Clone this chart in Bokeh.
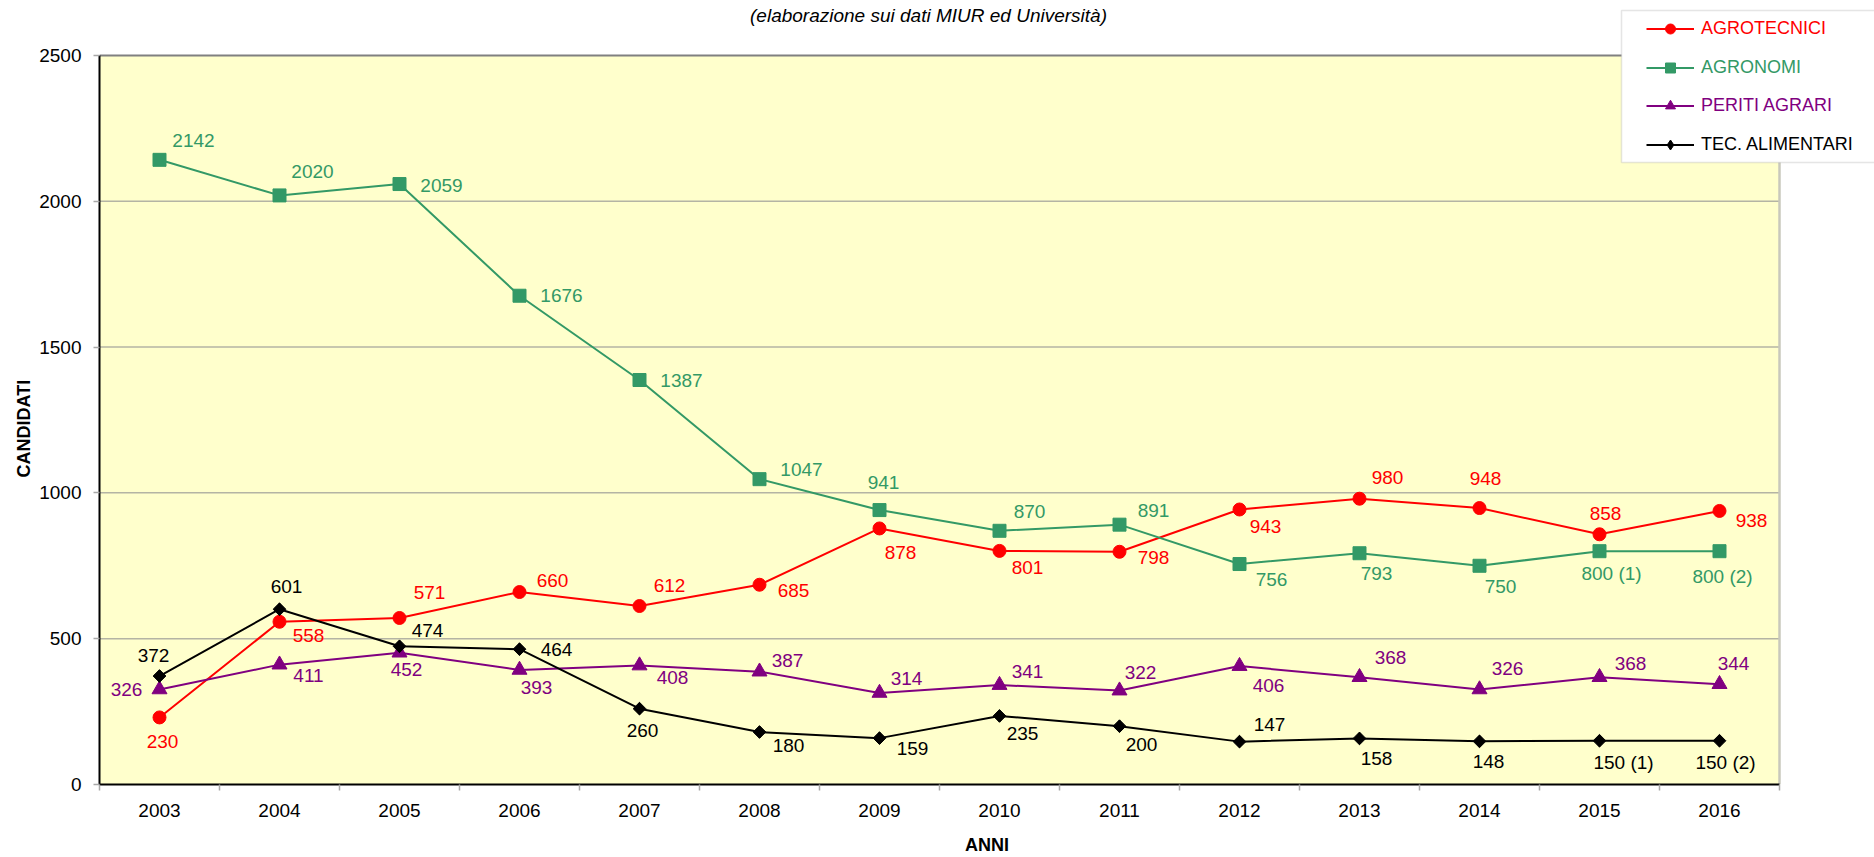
from math import pi
from bokeh.plotting import figure
from bokeh.models import (ColumnDataSource, FixedTicker, Range1d, Label, Title,
                          Legend, LegendItem, BoxAnnotation, GlobalInlineStyleSheet)
from bokeh.core.properties import value
from bokeh.embed import file_html
from bokeh.resources import INLINE

# ---------------- data ----------------
years = [2003, 2004, 2005, 2006, 2007, 2008, 2009, 2010, 2011, 2012, 2013, 2014, 2015, 2016]
year_labels = ["2003", "2004", "2005", "2006", "2007", "2008", "2009", "2010",
               "2011", "2012", "2013", "2014", "2015", "2016"]
y_ticks = [0, 500, 1000, 1500, 2000, 2500]

series_names = ["AGROTECNICI", "AGRONOMI", "PERITI AGRARI", "TEC. ALIMENTARI"]

agrotecnici = [230, 558, 571, 660, 612, 685, 878, 801, 798, 943, 980, 948, 858, 938]
agronomi = [2142, 2020, 2059, 1676, 1387, 1047, 941, 870, 891, 756, 793, 750, 800, 800]
periti_agrari = [326, 411, 452, 393, 408, 387, 314, 341, 322, 406, 368, 326, 368, 344]
tec_alimentari = [372, 601, 474, 464, 260, 180, 159, 235, 200, 147, 158, 148, 150, 150]

agrotecnici_text = ["230", "558", "571", "660", "612", "685", "878", "801", "798", "943", "980", "948", "858", "938"]
agronomi_text = ["2142", "2020", "2059", "1676", "1387", "1047", "941", "870", "891", "756", "793", "750", "800 (1)", "800 (2)"]
periti_text = ["326", "411", "452", "393", "408", "387", "314", "341", "322", "406", "368", "326", "368", "344"]
tec_text = ["372", "601", "474", "464", "260", "180", "159", "235", "200", "147", "158", "148", "150 (1)", "150 (2)"]

title_text = "(elaborazione sui dati MIUR ed Università)"
y_title = "CANDIDATI"
x_title = "ANNI"

# ---------------- layout of value labels (pixel offsets) ----------------
agro_dx = [3, 29, 30, 33, 30, 34, 21, 28, 34, 26, 28, 6, 6, 32]
agro_dy = [24, 14, -25, -12, -21, 6, 24, 17, 6, 17, -21, -30, -21, 10]
agrn_dx = [34, 33, 42, 42, 42, 42, 4, 30, 34, 32, 17, 21, 12, 3]
agrn_dy = [-19, -24, 1, 0, 0, -10, -28, -19, -14, 15, 20, 21, 22, 25]
per_dx = [-33, 29, 7, 17, 33, 28, 27, 28, 21, 29, 31, 28, 31, 14]
per_dy = [0, 11, 17, 18, 12, -11, -14, -14, -18, 19, -20, -21, -14, -21]
tec_dx = [-6, 7, 28, 37, 3, 29, 33, 23, 22, 30, 17, 9, 24, 6]
tec_dy = [-21, -23, -16, 0, 22, 13, 10, 18, 18, -17, 20, 20, 22, 22]

FONT = "Liberation Sans"

# ---------------- geometry ----------------
W, H = 1874, 857
LEFT, BOTTOM = 99, 72
PLOT_W, PLOT_H = 1680, 730          # yellow plotting area in pixels
FRAME_W, FRAME_H = W - LEFT, H - BOTTOM

x_start = years[0] - 0.5
x_stop = years[-1] + 0.5
x_end = x_start + (x_stop - x_start) * FRAME_W / PLOT_W
y_start = y_ticks[0]
y_stop = y_ticks[-1]
y_end = y_start + (y_stop - y_start) * FRAME_H / PLOT_H

p = figure(width=W, height=H,
           x_range=Range1d(x_start, x_end), y_range=Range1d(y_start, y_end),
           output_backend="svg", toolbar_location=None, tools="",
           min_border_left=LEFT, min_border_right=0,
           min_border_top=0, min_border_bottom=BOTTOM,
           background_fill_color="white", border_fill_color="white",
           outline_line_color=None)
p.stylesheets = [GlobalInlineStyleSheet(css="html, body { margin: 0 !important; padding: 0 !important; overflow: hidden; }")]

p.xgrid.visible = False
p.ygrid.visible = False

# plotting area background, grid lines and borders
p.quad(left=[x_start], right=[x_stop], bottom=[y_start], top=[y_stop],
       fill_color="#FFFFCC", line_color=None)
inner = y_ticks[1:-1]
p.segment(x0=[x_start] * len(inner), x1=[x_stop] * len(inner), y0=inner, y1=inner,
          line_color="#B4B4A4", line_width=1.5)
p.segment(x0=[x_start], x1=[x_stop], y0=[y_stop], y1=[y_stop],
          line_color="#808080", line_width=2)
p.segment(x0=[x_stop], x1=[x_stop], y0=[y_start], y1=[y_stop],
          line_color="#C8C8BC", line_width=2.5)

# x axis
xa = p.xaxis[0]
xa.bounds = (x_start, x_stop)
xa.ticker = FixedTicker(ticks=years, minor_ticks=[y - 0.5 for y in years] + [x_stop])
xa.major_label_overrides = dict(zip(years, year_labels))
xa.major_tick_in = 0
xa.major_tick_out = 0
xa.major_tick_line_color = None
xa.minor_tick_in = 0
xa.minor_tick_out = 6
xa.minor_tick_line_color = "#A8A8A8"
xa.minor_tick_line_width = 1.5
xa.axis_line_color = "black"
xa.axis_line_width = 2
xa.major_label_text_font = FONT
xa.major_label_text_font_size = "19px"
xa.major_label_text_color = "black"
xa.major_label_standoff = 13
xa.axis_label = x_title
xa.axis_label_text_font = FONT
xa.axis_label_text_font_size = "18px"
xa.axis_label_text_font_style = "bold"
xa.axis_label_text_color = "black"
xa.axis_label_standoff = 15

# y axis
ya = p.yaxis[0]
ya.bounds = (y_start, y_stop)
ya.ticker = FixedTicker(ticks=y_ticks)
ya.major_tick_in = 0
ya.major_tick_out = 6
ya.major_tick_line_color = "#A8A8A8"
ya.major_tick_line_width = 1.5
ya.minor_tick_line_color = None
ya.axis_line_color = "black"
ya.axis_line_width = 2
ya.major_label_text_font = FONT
ya.major_label_text_font_size = "19px"
ya.major_label_text_color = "black"
ya.major_label_standoff = 12

# vertical axis title
p.add_layout(Title(text=y_title, align="left", offset=307, standoff=6,
                   vertical_align="bottom", text_font=FONT, text_font_size="18px",
                   text_font_style="bold", text_color="black"), "left")

series = [
    (agrotecnici, agrotecnici_text, agro_dx, agro_dy, "#FF0000", "circle", 13, 0.0),
    (agronomi, agronomi_text, agrn_dx, agrn_dy, "#339966", "square", 13, 0.0),
    (periti_agrari, periti_text, per_dx, per_dy, "#800080", "triangle", 15, 0.0),
    (tec_alimentari, tec_text, tec_dx, tec_dy, "#000000", "square", 9, pi / 4),
]

legend_renderers = []
for vals, texts, dx, dy, color, marker, size, ang in series:
    src = ColumnDataSource(data=dict(x=years, y=vals, t=texts, dx=dx, dy=dy))
    lr = p.line(x="x", y="y", source=src, line_color=color, line_width=2)
    if ang:
        # diamond used as legend glyph, hidden under the rotated squares
        leg_r = p.scatter(x="x", y="y", source=src, marker="diamond", size=12,
                          fill_color=color, line_color=color)
    sr = p.scatter(x="x", y="y", source=src, marker=marker, size=size, angle=ang,
                   fill_color=color, line_color=color)
    if not ang:
        leg_r = sr
    p.text(x="x", y="y", text="t", x_offset="dx", y_offset="dy", source=src,
           text_font=value(FONT), text_font_size="19px", text_color=color,
           text_align="center", text_baseline="middle")
    legend_renderers.append((lr, leg_r, color))

# legend box
p.add_layout(BoxAnnotation(left=1522, right=1800, top=774, bottom=622,
                           left_units="screen", right_units="screen",
                           top_units="screen", bottom_units="screen",
                           fill_color="white", fill_alpha=1.0,
                           line_color="#A8A8A8", line_width=1.5))

legend_bottoms = [743, 704, 666, 627]
for (lr, sr, color), name, vy in zip(legend_renderers, series_names, legend_bottoms):
    lg = Legend(items=[LegendItem(label=name, renderers=[lr, sr])],
                location=(1547, vy), padding=8, margin=0, spacing=0,
                glyph_width=48, glyph_height=25, label_height=25, label_standoff=7,
                label_text_font=FONT, label_text_font_size="18px",
                label_text_color=color, border_line_color=None,
                background_fill_alpha=0.0)
    p.add_layout(lg)

# chart subtitle (top)
p.add_layout(Label(x=829, y=769, x_units="screen", y_units="screen", text=title_text,
                   text_font=FONT, text_font_size="19px", text_font_style="italic",
                   text_align="center", text_baseline="alphabetic", text_color="black"))

open("out.html", "w").write(file_html(p, INLINE))
